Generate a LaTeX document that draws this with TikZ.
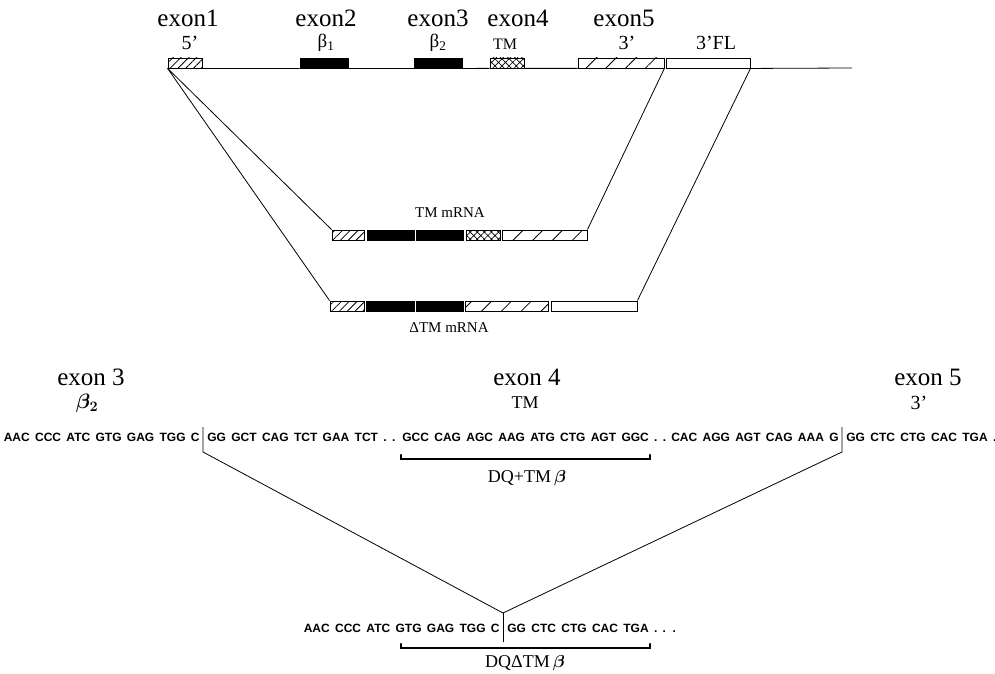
\documentclass[tikz,border=0pt]{standalone}
\usepackage{fontspec}
\usepackage{bm}
\usetikzlibrary{patterns.meta, positioning}
\setmainfont{Liberation Serif}
\newfontfamily\seqfont[WordSpace=1.6]{Liberation Sans}
\tikzstyle{exon} = [rectangle, draw=black, line width=0.9pt, inner sep=0pt,
	minimum height=10pt]
\tikzstyle{coding} = [exon, fill=black]
\tikzstyle{utr5} = [exon, pattern={Lines[angle=45, distance=5.5pt, line width=0.8pt]}]
\tikzstyle{utr3} = [exon, pattern={Lines[angle=45, distance=14pt, line width=0.8pt]}]
\tikzstyle{tmdom} = [exon, pattern={Hatch[angle=45, distance=5pt, line width=0.7pt]}]
\tikzstyle{flank} = [exon, fill=white]
\tikzstyle{biglabel} = [inner sep=0pt, font=\fontsize{25}{29}\selectfont]
\tikzstyle{midlabel} = [inner sep=0pt, font=\fontsize{25}{29}\selectfont]
\tikzstyle{smalllabel} = [inner sep=0pt, font=\fontsize{20}{23}\selectfont]
\tikzstyle{seq} = [inner sep=0pt, font=\seqfont\bfseries\fontsize{12}{15}\selectfont]
\tikzstyle{bracket} = [line width=2.2pt, line cap=round]
\begin{document}
\begin{tikzpicture}[x=1pt, y=-1pt, line width=0.8pt]
	\useasboundingbox (0,0) rectangle (995,674);

	% set up gene
	\node (ex1) [utr5, minimum width=34pt] at (185,63) {};
	\node (ex2) [coding, minimum width=48pt] at (324,63) {};
	\node (ex3) [coding, minimum width=48pt] at (438,63) {};
	\node (ex4) [tmdom, minimum width=34pt] at (507,63) {};
	\node (ex5) [utr3, minimum width=86pt] at (621,63) {};
	\node (fl) [flank, minimum width=84pt] at (708,63) {};
	\coordinate (gend) at (852,68);
	\draw (ex1.south west) -- (ex2.south west);
	\draw (ex2.south east) -- (ex3.south west);
	\draw (ex3.south east) -- (ex4.south west);
	\draw (ex4.south east) -- (ex5.south west);
	\draw (fl.south east) -- (gend);

	% gene labels
	\node (lex1) [biglabel] at (188,18) {exon1};
	\node (lex2) [biglabel] at (326,18) {exon2};
	\node (lex3) [biglabel] at (438,18) {exon3};
	\node (lex4) [biglabel] at (518,18) {exon4};
	\node (lex5) [biglabel] at (624,18) {exon5};
	\node (l5p) [smalllabel] at (190,43) {5'};
	\node (lb1) [smalllabel, font=\fontsize{19}{22}\selectfont] at (326,43) {β\textsubscript{1}};
	\node (lb2) [smalllabel, font=\fontsize{19}{22}\selectfont] at (438,43) {β\textsubscript{2}};
	\node (ltm) [smalllabel, font=\fontsize{16}{19}\selectfont] at (505,44) {TM};
	\node (l3p) [smalllabel] at (627,43) {3'};
	\node (lfl) [smalllabel] at (716,43) {3'FL};

	% set up TM mRNA
	\node (t1) [utr5, minimum width=32pt] at (348,235) {};
	\node (t2) [coding, minimum width=47pt] at (391,235) {};
	\node (t3) [coding, minimum width=47pt] at (440,235) {};
	\node (t4) [tmdom, minimum width=34pt] at (483,235) {};
	\node (t5) [utr3, minimum width=85pt] at (544.5,235) {};
	\node (tml) [smalllabel, font=\fontsize{15}{18}\selectfont] at (450,213) {TM mRNA};

	% set up delta TM mRNA
	\node (d1) [utr5, minimum width=34pt] at (347,306) {};
	\node (d2) [coding, minimum width=48pt] at (390,306) {};
	\node (d3) [coding, minimum width=47pt] at (439.5,306) {};
	\node (d4) [utr3, minimum width=83pt] at (506.5,306) {};
	\node (d5) [flank, minimum width=86pt] at (594,306) {};
	\node (dtml) [smalllabel, font=\fontsize{15}{18}\selectfont] at (449,328) {ΔTM mRNA};

	% splicing lines
	\draw (ex1.south west) -- (t1.north west);
	\draw (ex1.south west) -- (d1.north west);
	\draw (ex5.south east) -- (t5.north east);
	\draw (fl.south east) -- (d5.north east);

	% exon labels of the sequence
	\node (bex3) [midlabel] at (91,377) {exon 3};
	\node (bb2) [midlabel, font=\fontsize{22}{25}\selectfont] at (87,403) {$\bm{\beta_2}$};
	\node (bex4) [midlabel] at (527,377) {exon 4};
	\node (btm) [midlabel, font=\fontsize{18}{21}\selectfont] at (525,403) {TM};
	\node (bex5) [midlabel] at (928,377) {exon 5};
	\node (b3p) [midlabel, font=\fontsize{20}{24}\selectfont] at (919,403) {3'};

	% full sequence
	\node (sA) [seq, anchor=east] at (200,437) {AAC CCC ATC GTG GAG TGG C};
	\node (sB) [seq, anchor=west] at (207,437) {GG GCT CAG TCT GAA TCT . .};
	\node (sC) [seq, anchor=west] at (402,437) {GCC CAG AGC AAG ATG CTG AGT GGC . .};
	\node (sD) [seq, anchor=east] at (839,437) {CAC AGG AGT CAG AAA G};
	\node (sE) [seq, anchor=west] at (846,437) {GG CTC CTG CAC TGA .};

	% spliced sequence
	\node (sF) [seq, anchor=east] at (500,628) {AAC CCC ATC GTG GAG TGG C};
	\node (sG) [seq, anchor=west] at (507,628) {GG CTC CTG CAC TGA . . .};

	% splice junctions
	\coordinate (s3top) at (203,427);
	\coordinate (s3bot) at (203,452);
	\coordinate (s5top) at (842,427);
	\coordinate (s5bot) at (842,452);
	\coordinate (join) at (503,613);
	\coordinate (jbot) at (503,642);
	\draw (s3top) -- (s3bot) -- (join) -- (s5bot) -- (s5top);
	\draw (join) -- (jbot);

	% brackets
	\coordinate (br1a) at (401,455);
	\coordinate (br1b) at (650,455);
	\draw [bracket] (br1a) -- ++(0,4) -| (br1b);
	\node (tmb) [smalllabel, font=\fontsize{18}{21}\selectfont] at (527,478) {DQ+TM\,$\bm\beta$};
	\coordinate (br2a) at (401,644);
	\coordinate (br2b) at (650,644);
	\draw [bracket] (br2a) -- ++(0,4) -| (br2b);
	\node (dtmb) [smalllabel, font=\fontsize{18}{21}\selectfont] at (525,663) {DQΔTM\,$\bm\beta$};

\end{tikzpicture}
\end{document}
